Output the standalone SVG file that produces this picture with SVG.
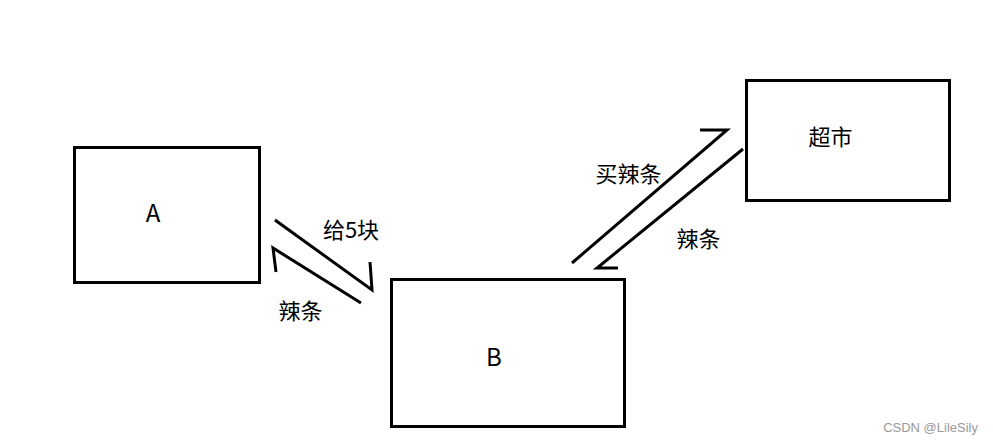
<svg xmlns="http://www.w3.org/2000/svg" width="993" height="444" viewBox="0 0 993 444">
<style>
.box{fill:#fff;stroke:#000;stroke-width:3}
.ln{fill:none;stroke:#000;stroke-width:3;stroke-linecap:butt}
.t{font-family:"Noto Sans CJK SC","Liberation Sans",sans-serif;font-size:22px;fill:#000}
.l{font-family:"Noto Sans CJK SC","Liberation Sans",sans-serif;font-size:24px;fill:#000}
.w{font-family:"Liberation Sans",sans-serif;font-size:13px;fill:#999}
</style>
<rect width="993" height="444" fill="#fff"/>
<g id="nodeA"><rect class="box" x="74.5" y="147.5" width="185" height="135"/><text class="l" x="153" y="222" text-anchor="middle">A</text></g>
<g id="nodeB"><rect class="box" x="391.5" y="279.5" width="233" height="147"/><text class="l" x="494" y="366" text-anchor="middle">B</text></g>
<g id="nodeMarket"><rect class="box" x="746.5" y="80.5" width="203" height="120"/><text class="t" x="830.5" y="145" text-anchor="middle">超市</text></g>
<g id="connectors">
<path class="ln" d="M275 220 L372 290 L370 262"/>
<path class="ln" d="M361 303 L273 248 L276 272"/>
<path class="ln" d="M572 263 L727 130 L700 130"/>
<path class="ln" d="M743 149 L597 268 L618 268"/>
<text class="t" x="351" y="238" text-anchor="middle">给5块</text>
<text class="t" x="300.5" y="319" text-anchor="middle">辣条</text>
<text class="t" x="628.5" y="182" text-anchor="middle">买辣条</text>
<text class="t" x="698.5" y="247" text-anchor="middle">辣条</text>
</g>
<text class="w" x="978" y="432" text-anchor="end">CSDN @LileSily</text>
</svg>
